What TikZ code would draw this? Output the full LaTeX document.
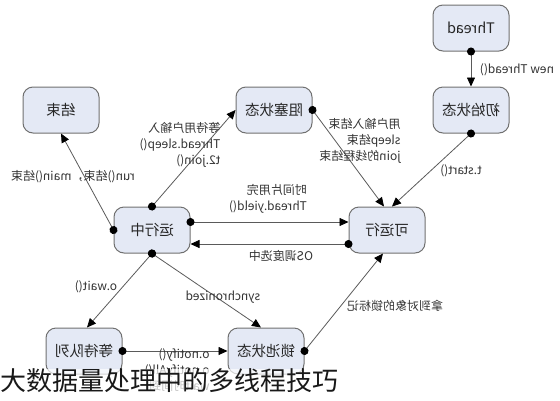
\documentclass[tikz,border=0pt]{standalone}
\usepackage{fontspec}
\setmainfont{Noto Sans CJK SC}
\usepackage{graphicx}
\usetikzlibrary{arrows.meta}
\definecolor{stfill}{HTML}{E4E9F5}
\definecolor{stline}{HTML}{707070}
\definecolor{wire}{HTML}{5A5A5A}
\newcommand{\st}[1]{\reflectbox{#1}}
\newcommand{\lab}[1]{\reflectbox{\begin{tabular}{@{}l@{}}#1\end{tabular}}}

\begin{document}
\begin{tikzpicture}[x=1pt,y=-1pt,
  state/.style={draw=stline,fill=stfill,line width=1pt,rounded corners=10pt,
                minimum width=76pt,minimum height=46pt,
                font=\fontsize{14.5}{16}\selectfont,text=black!85},
  lbl/.style={inner sep=1pt,font=\fontsize{12}{16}\selectfont,text=black!80},
  flow/.style={draw=wire,line width=0.8pt,shorten <=-4pt,
               {Circle[length=8pt,color=black]}-{Triangle[length=9pt,width=8pt,color=black]}}]
 \useasboundingbox (0,0) rectangle (560,400);

 \draw (471,28)  node[state] (thread) {\st{Thread}};
 \draw (471,110) node[state] (init)   {\st{初始状态}};
 \draw (274,110) node[state] (block)  {\st{阻塞状态}};
 \draw (61,110)  node[state] (dead)   {\st{结束}};
 \draw (152,230) node[state] (run)    {\st{运行中}};
 \draw (387,230) node[state] (ready)  {\st{可运行}};
 \draw (84,351)  node[state] (waitq)  {\st{等待队列}};
 \draw (266,351) node[state] (lock)   {\st{锁池状态}};

 \draw[flow] (thread.south) -- (init.north);
 \draw[flow] (init.south) -- ([xshift=5pt]ready.north);
 \draw[flow] (block.east) -- ([xshift=-3pt]ready.north);
 \draw[flow] (run.north) -- (block.west);
 \draw[flow] (run.west) -- (dead.south);
 \draw[flow] ([yshift=8pt]run.east) -- ([yshift=8pt]ready.west);
 \draw[flow] ([yshift=-14pt]ready.west) -- ([yshift=-14pt]run.east);
 \draw[flow] (run.south) -- ([xshift=3pt]waitq.north);
 \draw[flow] (run.south) -- ([xshift=-5pt]lock.north);
 \draw[flow] (waitq.east) -- (lock.west);
 \draw[flow] (lock.east) -- ([xshift=-4pt]ready.south);

 \draw (517,70)  node[lbl] {\lab{new Thread()}};
 \draw (461,171) node[lbl] {\lab{t.start()}};
 \draw (360,141) node[lbl] {\lab{用户输入结束\\sleep结束\\join的线程结束}};
 \draw (180,145) node[lbl] {\lab{等待用户输入\\Thread.sleep()\\t2.join()}};
 \draw (73,177)  node[lbl] {\lab{run()结束，main()结束}};
 \draw (268,199) node[lbl] {\lab{时间片用完\\Thread.yield()}};
 \draw (281,257) node[lbl] {\lab{OS调度选中}};
 \draw (96,287)  node[lbl] {\lab{o.wait()}};
 \draw (223,297) node[lbl] {\lab{synchronized}};
 \draw (395,307) node[lbl] {\lab{拿到对象的锁标记}};
 \draw (177,371) node[lbl] {\lab{o.notify()\\o.notifyAll()\\wait时间到}};

 \draw (0,381) node[anchor=west,inner sep=0pt,fill=white,fill opacity=0.7,text opacity=1,
                    font=\fontsize{26}{28}\selectfont,text=black!90] (title)
                   {大数据量处理中的多线程技巧};
\end{tikzpicture}
\end{document}
